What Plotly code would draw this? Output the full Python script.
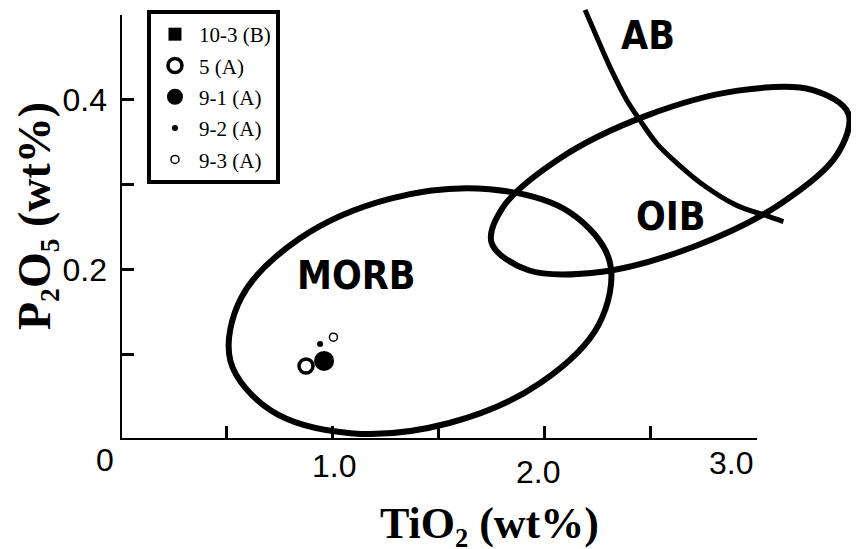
import plotly.graph_objects as go

# ---- sample data (TiO2, P2O5 in wt%) ----
sample_names = ["10-3 (B)", "5 (A)", "9-1 (A)", "9-2 (A)", "9-3 (A)"]
tio2 = [0.961, 0.876, 0.961, 0.942, 1.005]
p2o5 = [0.093, 0.087, 0.093, 0.113, 0.121]

# ---- field boundaries ----
morb_x = [2.306, 2.117, 1.739, 1.274, 0.846, 0.570, 0.520, 0.709, 1.086, 1.551, 1.979, 2.255]
morb_y = [0.210, 0.268, 0.295, 0.284, 0.237, 0.167, 0.093, 0.035, 0.008, 0.020, 0.067, 0.136]

oib_x = [3.430, 3.259, 2.909, 2.473, 2.069, 1.804, 1.750, 1.921, 2.271, 2.707, 3.111, 3.375]
oib_y = [0.384, 0.412, 0.411, 0.381, 0.331, 0.274, 0.232, 0.200, 0.198, 0.228, 0.278, 0.335]

ab_x = [2.190, 2.245, 2.307, 2.386, 2.449, 2.527, 2.621, 2.747, 2.904, 3.029, 3.124]
ab_y = [0.506, 0.474, 0.439, 0.400, 0.376, 0.349, 0.326, 0.300, 0.276, 0.265, 0.257]

field_labels = ["MORB", "OIB", "AB"]
field_label_x = [1.116, 2.595, 2.486]
field_label_y = [0.193, 0.2635, 0.476]

x_tick_vals = [0.5, 1.0, 1.5, 2.0, 2.5]
x_tick_labels = ["0", "1.0", "2.0", "3.0"]
x_tick_label_x = [-0.071, 1.008, 1.968, 2.877]
x_tick_label_y = [-0.024, -0.031, -0.038, -0.027]
y_tick_vals = [0.2, 0.4]
y_tick_text = ["0.2", "0.4"]
y_minor_vals = [0.1, 0.3]

x_title = "TiO₂ (wt%)"
y_title = "P₂O₅ (wt%)"

XMAX = 3.480
YMAX = 0.5082

marker_styles = [
    dict(symbol="square", size=13, color="black"),
    dict(symbol="circle-open", size=14, color="black", line=dict(width=3.5, color="black")),
    dict(symbol="circle", size=20, color="black"),
    dict(symbol="circle", size=6, color="black"),
    dict(symbol="circle-open", size=8, color="black", line=dict(width=1.5, color="black")),
]

fig = go.Figure()

def closed(v):
    return v + [v[0]]

def px(x):
    return x / XMAX

def py(y):
    return y / YMAX

for xs, ys in [(morb_x, morb_y), (oib_x, oib_y)]:
    fig.add_trace(go.Scatter(x=closed(xs), y=closed(ys), mode="lines",
                             line=dict(color="black", width=6, shape="spline"),
                             showlegend=False, hoverinfo="skip"))
fig.add_trace(go.Scatter(x=ab_x, y=ab_y, mode="lines",
                         line=dict(color="black", width=5, shape="spline"),
                         showlegend=False, hoverinfo="skip"))

for i, name in enumerate(sample_names):
    fig.add_trace(go.Scatter(x=[tio2[i]], y=[p2o5[i]], mode="markers", name=name,
                             marker=marker_styles[i], legendgroup=name))

label_font = dict(family='Impact, "Liberation Sans Narrow", "DejaVu Sans Condensed", "Liberation Sans", sans-serif',
                  size=39, color="black", weight="bold")
for t, x, y in zip(field_labels, field_label_x, field_label_y):
    fig.add_annotation(x=px(x), y=py(y), xref="paper", yref="paper", text=t, showarrow=False,
                       xanchor="center", yanchor="middle", font=label_font)

tick_font = dict(family="Liberation Sans, Arial, sans-serif", size=32, color="black")
for t, x, y in zip(x_tick_labels, x_tick_label_x, x_tick_label_y):
    fig.add_annotation(x=px(x), y=py(y), xref="paper", yref="paper", text=t, showarrow=False,
                       xanchor="center", yanchor="middle", font=tick_font)

title_font = dict(family="Liberation Serif, Times New Roman, DejaVu Serif, serif", size=44,
                  color="black", weight="bold")
fig.add_annotation(x=px(1.738), y=py(-0.0988), xref="paper", yref="paper", text=x_title,
                   showarrow=False, xanchor="center", yanchor="middle", font=title_font)
fig.add_annotation(x=px(-0.405), y=py(0.2635), xref="paper", yref="paper",
                   text=y_title, xanchor="center", yanchor="middle",
                   showarrow=False, font=dict(title_font, size=46), textangle=-90)

# axis lines
fig.add_shape(type="line", x0=0, y0=0, x1=3.0, y1=0, xref="x", yref="y", line=dict(color="black", width=4))
fig.add_shape(type="line", x0=0, y0=0, x1=0, y1=0.5, xref="x", yref="y", line=dict(color="black", width=4))

fig.update_xaxes(range=[0, XMAX], showgrid=False, zeroline=False, showline=False,
                 tickvals=x_tick_vals, ticks="inside", ticklen=14, tickwidth=3, tickcolor="black",
                 showticklabels=False, fixedrange=True)
fig.update_yaxes(range=[0, YMAX], showgrid=False, zeroline=False, showline=False,
                 tickvals=y_tick_vals, ticktext=y_tick_text, ticks="inside", ticklen=14, tickwidth=3,
                 tickcolor="black", tickfont=tick_font, ticklabelstandoff=12, fixedrange=True,
                 minor=dict(tickvals=y_minor_vals, ticks="inside", ticklen=14, tickwidth=3,
                            tickcolor="black", showgrid=False))

fig.update_layout(
    width=851, height=541,
    margin=dict(l=112, r=0, t=0, b=109),
    plot_bgcolor="white", paper_bgcolor="white",
    legend=dict(x=0.0365, y=0.9953, xanchor="left", yanchor="top", bgcolor="white",
                bordercolor="black", borderwidth=4, itemsizing="trace", itemwidth=38,
                font=dict(family="Liberation Serif, Times New Roman, serif", size=21, color="black"),
                tracegroupgap=1),
)

fig.write_html("out.html")
